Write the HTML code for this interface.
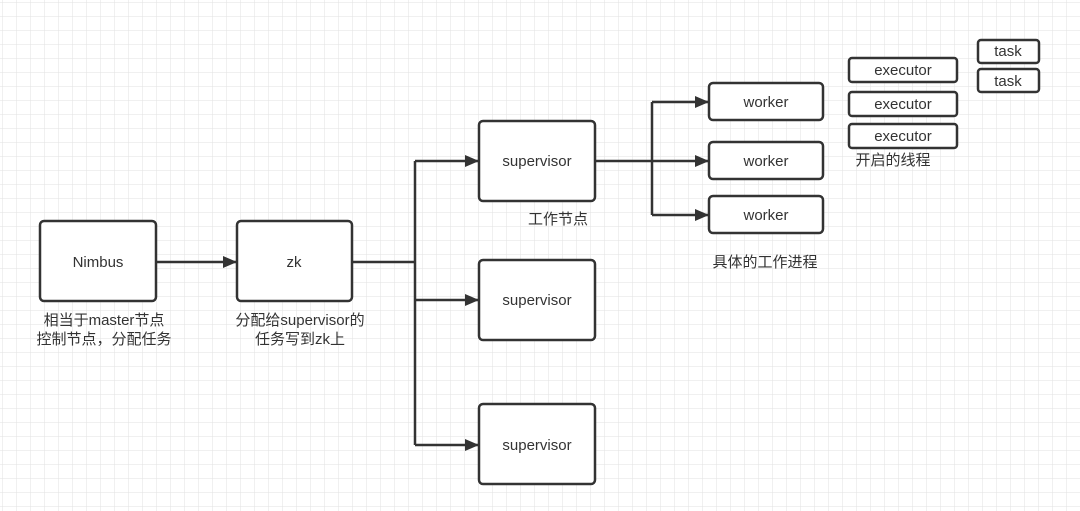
<!DOCTYPE html>
<html><head><meta charset="utf-8"><style>
html,body{margin:0;padding:0;background:#fff;}
svg{display:block;}
text{font-family:"Liberation Sans","Noto Sans CJK SC",sans-serif;fill:#333;}
</style></head><body>
<svg width="1080" height="511" viewBox="0 0 1080 511" xmlns="http://www.w3.org/2000/svg">
<defs>
<pattern id="g" width="14" height="14" patternUnits="userSpaceOnUse" x="2" y="2">
<path d="M14 0H0V14" fill="none" stroke="#e2e2e2" stroke-width="1"/>
</pattern>
<marker id="a" markerWidth="14" markerHeight="12" refX="13" refY="6" orient="auto" markerUnits="userSpaceOnUse">
<path d="M0,0 L14,6 L0,12 Z" fill="#333"/>
</marker>
</defs>
<rect width="1080" height="511" fill="url(#g)"/>
<g stroke="#333" stroke-width="2.5" fill="#fff">
<rect x="40" y="221" width="116" height="80" rx="4"/>
<rect x="237" y="221" width="115" height="80" rx="4"/>
<rect x="479" y="121" width="116" height="80" rx="4"/>
<rect x="479" y="260" width="116" height="80" rx="4"/>
<rect x="479" y="404" width="116" height="80" rx="4"/>
<rect x="709" y="83" width="114" height="37" rx="4"/>
<rect x="709" y="142" width="114" height="37" rx="4"/>
<rect x="709" y="196" width="114" height="37" rx="4"/>
<rect x="849" y="58" width="108" height="24" rx="3"/>
<rect x="849" y="92" width="108" height="24" rx="3"/>
<rect x="849" y="124" width="108" height="24" rx="3"/>
<rect x="978" y="40" width="61" height="23" rx="3"/>
<rect x="978" y="69" width="61" height="23" rx="3"/>
</g>
<g stroke="#333" stroke-width="2.5" fill="none">
<path d="M156 262H236" marker-end="url(#a)"/>
<path d="M352 262H415"/>
<path d="M415 161V445"/>
<path d="M415 161H478" marker-end="url(#a)"/>
<path d="M415 300H478" marker-end="url(#a)"/>
<path d="M415 445H478" marker-end="url(#a)"/>
<path d="M595 161H708" marker-end="url(#a)"/>
<path d="M652 102V215"/>
<path d="M652 102H708" marker-end="url(#a)"/>
<path d="M652 215H708" marker-end="url(#a)"/>
</g>
<g font-size="15" text-anchor="middle">
<text x="98" y="267">Nimbus</text>
<text x="294" y="267">zk</text>
<text x="537" y="166">supervisor</text>
<text x="537" y="305">supervisor</text>
<text x="537" y="450">supervisor</text>
<text x="766" y="107">worker</text>
<text x="766" y="166">worker</text>
<text x="766" y="220">worker</text>
<text x="903" y="75">executor</text>
<text x="903" y="109">executor</text>
<text x="903" y="141">executor</text>
<text x="1008" y="56">task</text>
<text x="1008" y="86">task</text>
<text x="104" y="325">相当于master节点</text>
<text x="104" y="344">控制节点，分配任务</text>
<text x="300" y="325">分配给supervisor的</text>
<text x="300" y="344">任务写到zk上</text>
<text x="558" y="224">工作节点</text>
<text x="765" y="267">具体的工作进程</text>
<text x="893" y="165">开启的线程</text>
</g>
</svg>
</body></html>
